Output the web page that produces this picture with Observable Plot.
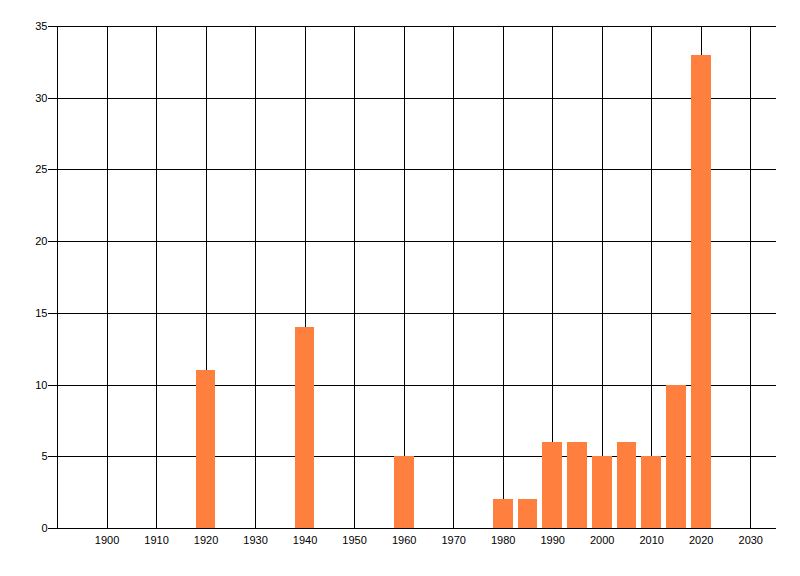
<!DOCTYPE html>
<html>
<head>
<meta charset="utf-8">
<script src="https://cdn.jsdelivr.net/npm/d3@7"></script>
<script src="https://cdn.jsdelivr.net/npm/@observablehq/plot@0.6"></script>
<style>
  html, body { margin: 0; padding: 0; background: #fff; }
  #chart { width: 800px; height: 576px; }
  #chart line, #chart path, #chart rect { shape-rendering: crispEdges; }
</style>
</head>
<body>
<div id="chart"></div>
<script>
const years = [1920, 1940, 1960, 1980, 1985, 1990, 1995, 2000, 2005, 2010, 2015, 2020];
const counts = [11, 14, 5, 2, 2, 6, 6, 5, 6, 5, 10, 33];
const xTicks = [1900, 1910, 1920, 1930, 1940, 1950, 1960, 1970, 1980, 1990, 2000, 2010, 2020, 2030];
const yTicks = [0, 5, 10, 15, 20, 25, 30, 35];

const data = years.map((y, i) => ({year: y, count: counts[i]}));
const xDomain = [1890, 2035.2];
const halfWidth = 2;

const chart = Plot.plot({
  width: 800,
  height: 576,
  marginLeft: 57,
  marginRight: 24,
  marginTop: 26,
  marginBottom: 48,
  style: {fontFamily: "'Liberation Sans', Arial, sans-serif", fontSize: "11px", color: "#000", background: "#fff"},
  x: {domain: xDomain},
  y: {domain: [0, 35]},
  marks: [
    Plot.ruleX(xTicks, {y1: 0, y2: 35, stroke: "#000", strokeWidth: 1}),
    Plot.ruleX([xDomain[0]], {y1: 0, y2: 35, stroke: "#000", strokeWidth: 1}),
    Plot.ruleY(yTicks, {stroke: "#000", strokeWidth: 1}),
    Plot.rectY(data, {
      x1: d => d.year - halfWidth,
      x2: d => d.year + halfWidth,
      y1: 0,
      y2: "count",
      fill: "#ff7f3f",
      inset: 0
    }),
    Plot.axisY({ticks: yTicks, tickSize: 9, tickPadding: 1, label: null, tickFormat: d => String(d), stroke: "#000", strokeOpacity: 1}),
    Plot.axisX({ticks: xTicks, tickSize: 0, tickPadding: 8, label: null, tickFormat: d => String(d)})
  ]
});
document.getElementById("chart").appendChild(chart);
</script>
</body>
</html>
